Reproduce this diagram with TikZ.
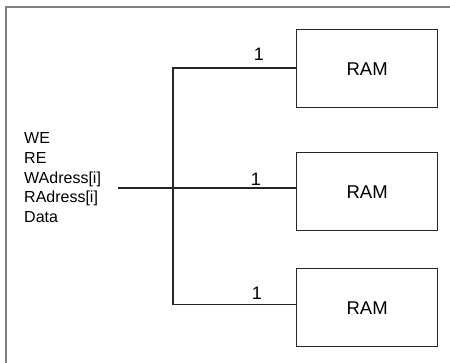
\documentclass[tikz,border=0pt]{standalone}
\usepackage{fontspec}
\setmainfont{Liberation Sans}
\begin{document}
\begin{tikzpicture}[x=1pt,y=-1pt,
  rambox/.style={draw=black!85,line width=1.3pt,minimum width=141pt,minimum height=78pt,inner sep=0pt,font=\fontsize{18.5}{22}\selectfont,anchor=north west},
  wire/.style={draw=black!85,line width=1.3pt},
  lbl/.style={font=\fontsize{18}{20}\selectfont,inner sep=0pt}]
\useasboundingbox (0,0) rectangle (450,362);
\draw[draw=black!50,line width=2pt] (6,370) -- (6,7) -- (460,7);
\node[rambox] (r1) at (296,29) {RAM};
\node[rambox] (r2) at (296,152) {RAM};
\node[rambox] (r3) at (296,268) {RAM};
\node[inner sep=0pt,anchor=north west,align=left,font=\fontsize{16}{19.7}\selectfont] (sig) at (24,132.5) {WE\\RE\\WAdress[i]\\RAdress[i]\\Data};
\coordinate (s) at (118,188);
\coordinate (t) at (173,68);
\coordinate (b) at (173,304.5);
\draw[wire] (s) -- (s -| r2.west);
\draw[wire] (t -| r1.west) -- (t) -- (b) -- (b -| r3.west);
\node[lbl] (n1) at (259,54) {1};
\node[lbl] (n2) at (256,179.5) {1};
\node[lbl] (n3) at (257,293) {1};
\end{tikzpicture}
\end{document}
